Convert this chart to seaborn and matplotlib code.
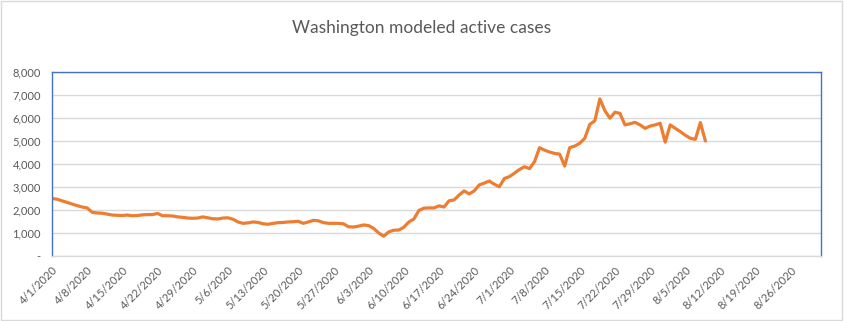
import matplotlib
matplotlib.use("Agg")
import matplotlib.pyplot as plt
import seaborn as sns
import pandas as pd
import numpy as np
from matplotlib.patches import Rectangle

title = "Washington modeled active cases"
start_date = "2020-04-01"
active_cases = [
    2500, 2470, 2400, 2330, 2260, 2190, 2130, 2090, 1900, 1870,
    1860, 1820, 1780, 1770, 1760, 1780, 1750, 1760, 1790, 1800,
    1800, 1850, 1750, 1750, 1740, 1700, 1680, 1650, 1640, 1650,
    1700, 1660, 1620, 1610, 1650, 1660, 1600, 1480, 1420, 1440,
    1480, 1460, 1400, 1380, 1420, 1450, 1460, 1480, 1490, 1510,
    1420, 1480, 1550, 1530, 1450, 1420, 1420, 1420, 1400, 1270,
    1260, 1300, 1350, 1320, 1200, 1000, 860, 1050, 1120, 1130,
    1250, 1480, 1610, 1980, 2080, 2090, 2090, 2180, 2130, 2400,
    2440, 2650, 2830, 2700, 2830, 3090, 3170, 3260, 3120, 3010,
    3370, 3450, 3600, 3760, 3880, 3800, 4100, 4710, 4600, 4520,
    4460, 4430, 3910, 4710, 4780, 4900, 5120, 5720, 5880, 6830,
    6320, 5990, 6250, 6200, 5700, 5750, 5810, 5700, 5550, 5650,
    5700, 5770, 4950, 5700, 5550, 5410, 5250, 5120, 5070, 5800,
    5000,
]
x_tick_labels = ["4/1/2020", "4/8/2020", "4/15/2020", "4/22/2020", "4/29/2020",
                 "5/6/2020", "5/13/2020", "5/20/2020", "5/27/2020", "6/3/2020",
                 "6/10/2020", "6/17/2020", "6/24/2020", "7/1/2020", "7/8/2020",
                 "7/15/2020", "7/22/2020", "7/29/2020", "8/5/2020", "8/12/2020",
                 "8/19/2020", "8/26/2020"]
y_ticks = [0, 1000, 2000, 3000, 4000, 5000, 6000, 7000, 8000]
y_tick_labels = ["-", "1,000", "2,000", "3,000", "4,000", "5,000", "6,000", "7,000", "8,000"]
x_end_date = "2020-09-01"

dates = pd.date_range(start_date, periods=len(active_cases), freq="D")
df = pd.DataFrame({"date": dates, "cases": active_cases})

sns.set_theme(style="white")
plt.rcParams["font.family"] = ["Lato", "DejaVu Sans"]

fig = plt.figure(figsize=(8.44, 3.21), dpi=100)
ax = fig.add_axes([52 / 844, 65 / 321, (821 - 52) / 844, (256 - 72) / 321])

sns.lineplot(data=df, x="date", y="cases", ax=ax, color="#ED7D31", linewidth=2.3)

ax.set_xlim(pd.Timestamp(start_date), pd.Timestamp(x_end_date))
ax.set_ylim(0, 8000)
ax.set_yticks(y_ticks)
ax.set_yticklabels(y_tick_labels)
tick_dates = [pd.Timestamp(s) for s in pd.to_datetime(x_tick_labels, format="%m/%d/%Y")]
ax.set_xticks(tick_dates)
ax.set_xticklabels(x_tick_labels, rotation=45, ha="right", rotation_mode="anchor")
ax.tick_params(axis="both", length=0, labelsize=8, labelcolor="#595959")
ax.tick_params(axis="x", pad=6)
ax.tick_params(axis="y", pad=8)
ax.set_xlabel("")
ax.set_ylabel("")
ax.yaxis.grid(True, color="#D9D9D9", linewidth=1)
ax.set_axisbelow(True)
for side in ["left", "top", "right"]:
    ax.spines[side].set_color("#4472C4")
    ax.spines[side].set_linewidth(1)
ax.spines["bottom"].set_color("#D9D9D9")
ax.spines["bottom"].set_linewidth(1)

fig.text(0.5, 1 - 28 / 321, title, ha="center", va="center", fontsize=12.5, color="#595959")
fig.patches.append(Rectangle((0.001, 0.002), 0.997, 0.995, transform=fig.transFigure,
                             fill=False, edgecolor="#D9D9D9", linewidth=1))

fig.savefig("out.png", dpi=100)
